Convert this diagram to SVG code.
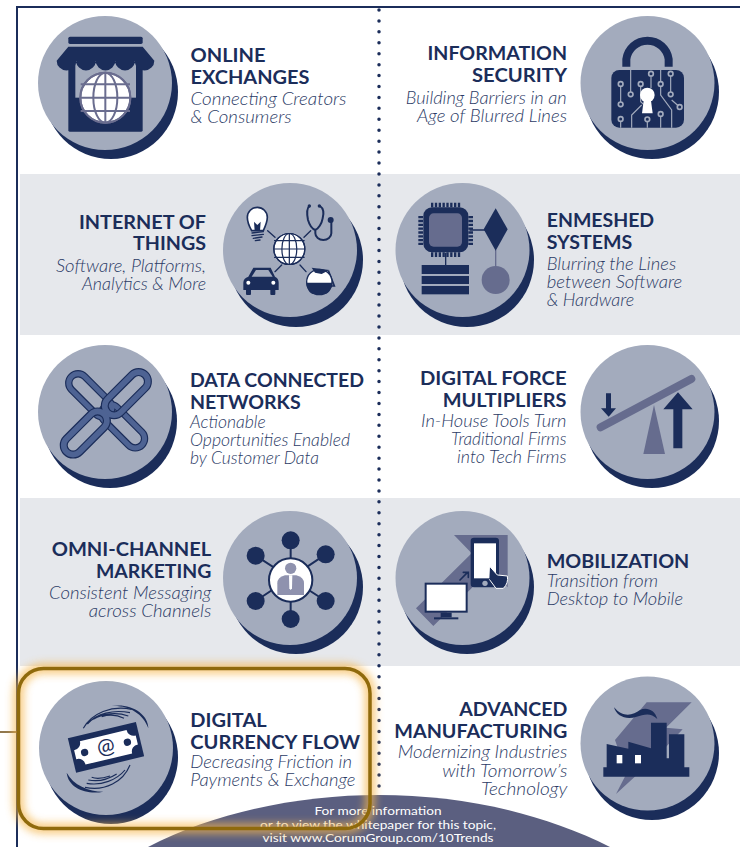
<svg xmlns="http://www.w3.org/2000/svg" xmlns:xlink="http://www.w3.org/1999/xlink" width="740" height="847" viewBox="0 0 740 847">
<style>
.h{font-family:"Lato","Liberation Sans",sans-serif;font-weight:700;font-size:19px;fill:#1B2D5A}
.s{font-family:"Lato","Liberation Sans",sans-serif;font-weight:300;font-style:italic;font-size:17px;fill:#2C3B66}
.f{font-family:"Lato","Liberation Sans",sans-serif;font-weight:400;font-size:12px;fill:#fff}
.l{fill:#A3ABBD}.d{fill:#1B2D5A}.m{fill:#666C8E}.w{fill:#fff}
.band{fill:#E6E8EC}
.tr{fill:none;stroke:#A3ABBD;stroke-width:3.5}
.nd{fill:#1B2D5A;stroke:#A3ABBD;stroke-width:5}
.ln{fill:none;stroke:#1B2D5A;stroke-linecap:round}
.swoosh{fill:none;stroke:#1B2D5A;stroke-width:3.5}
</style>
<defs>
<g id="globe"><circle r="75" fill="#fff"/><g fill="none"><circle r="75"/><ellipse rx="36" ry="75"/><path d="M0-75V75M-74-40H74M-75 0H75M-74 40H74"/></g></g>
<rect id="link" x="-80" y="-28" width="160" height="56" rx="28"/>
<filter id="glow" x="-10%" y="-15%" width="120%" height="130%"><feGaussianBlur stdDeviation="4"/></filter>
</defs>
<rect width="740" height="847" fill="#fff"/>
<rect class="band" x="20" y="174" width="720" height="161"/>
<rect class="band" x="20" y="498" width="720" height="168"/>
<path d="M17 847V7H740" fill="none" stroke="#1B2D5A" stroke-width="2"/>
<line x1="379" y1="10" x2="379" y2="800" stroke="#1B2D5A" stroke-width="3.500" stroke-linecap="round" stroke-dasharray="0 10.93"/>

<g id="footer">
<path d="M148 847C215 812 300 795 379 795C460 795 540 812 610 847Z" fill="#5B5F80"/>
<text class="f" x="314.500" y="815" textLength="127" lengthAdjust="spacingAndGlyphs">For more information</text>
<text class="f" x="260" y="828.500" textLength="236" lengthAdjust="spacingAndGlyphs">or to view the whitepaper for this topic,</text>
<text class="f" x="262.500" y="842" textLength="231" lengthAdjust="spacingAndGlyphs">visit www.CorumGroup.com/10Trends</text>
</g>

<g id="online-exchanges">
<circle class="d" cx="111" cy="92" r="67"/><circle class="l" cx="105" cy="83" r="67"/>
<g transform="scale(.33333)">
<rect class="d" x="205" y="110" width="223" height="22" rx="5"/>
<rect class="d" x="205" y="185" width="223" height="210" rx="4"/>
<rect class="l" x="226" y="190" width="182" height="103"/>
<path class="d" d="M205 140H428L463 182A29.300 29.300 0 0 1 404.400 182A29.300 29.300 0 0 1 345.800 182A29.300 29.300 0 0 1 287.200 182A29.300 29.300 0 0 1 228.600 182A29.300 29.300 0 0 1 170 182Z"/>
<use href="#globe" transform="translate(316 293)" stroke="#6A6D8F" stroke-width="6"/>
</g>
<text class="h" x="190.500" y="62" textLength="75" lengthAdjust="spacingAndGlyphs">ONLINE</text>
<text class="h" x="190.500" y="83.500" textLength="119" lengthAdjust="spacingAndGlyphs">EXCHANGES</text>
<text class="s" x="190.500" y="105" textLength="156" lengthAdjust="spacingAndGlyphs">Connecting Creators</text>
<text class="s" x="190.500" y="122.500" textLength="101" lengthAdjust="spacingAndGlyphs">&amp; Consumers</text>
</g>

<g id="information-security">
<circle class="d" cx="652" cy="92" r="67"/><circle class="l" cx="647.500" cy="83" r="67"/>
<g transform="translate(370 0) scale(.33333)">
<path d="M769 200V178A64 64 0 0 1 896 178V200" fill="none" stroke="#1B2D5A" stroke-width="24"/>
<rect class="d" x="724" y="210" width="218" height="173" rx="24"/>
<path class="tr" d="M752 252V313M782 210V283M812 252V305L828 320M843 221V265M872 252V210M872 252V285L905 330V383M902 221V283M785 383V345L815 315M832 358V383M872 342V383M752 357V383M929 321L905 300"/>
<g class="nd"><circle cx="752" cy="252" r="7"/><circle cx="782" cy="283" r="7"/><circle cx="812" cy="252" r="7"/><circle cx="843" cy="221" r="7"/><circle cx="872" cy="252" r="7"/><circle cx="902" cy="221" r="7"/><circle cx="902" cy="283" r="7"/><circle cx="752" cy="313" r="7"/><circle cx="752" cy="357" r="7"/><circle cx="832" cy="358" r="7"/><circle cx="872" cy="342" r="7"/><circle cx="929" cy="321" r="7"/></g>
<circle class="w" cx="832" cy="285" r="22"/><path class="w" d="M822 295H842L848 340H816Z"/>
</g>
<text class="h" x="427.500" y="60" textLength="139.500" lengthAdjust="spacingAndGlyphs">INFORMATION</text>
<text class="h" x="472" y="82.300" textLength="95" lengthAdjust="spacingAndGlyphs">SECURITY</text>
<text class="s" x="405.700" y="104" textLength="161" lengthAdjust="spacingAndGlyphs">Building Barriers in an</text>
<text class="s" x="417" y="122" textLength="150" lengthAdjust="spacingAndGlyphs">Age of Blurred Lines</text>
</g>

<g id="internet-of-things">
<circle class="d" cx="296" cy="260" r="67"/><circle class="l" cx="290" cy="250" r="67"/>
<g transform="scale(.33333)">
<path d="M803 692L825 712M912 712L932 692M845 795L825 815M900 795L918 815" class="ln" stroke-width="4"/>
<use href="#globe" transform="translate(868 747) scale(.62)" stroke="#1B2D5A" stroke-width="6"/>
<path d="M755 692C745 675 742 665 742 652A30 30 0 0 1 802 652C802 665 798 675 790 692Z" fill="#fff" stroke="#1B2D5A" stroke-width="5"/>
<path d="M764 692L762 665L772 675L782 665L780 692" fill="#1B2D5A"/>
<path d="M756 699L790 695M756 707L790 703M760 715L786 711M766 722L780 720" class="ln" stroke-width="4"/>
<path d="M928 618C920 625 920 640 924 660C930 680 940 688 946 690C955 686 965 672 968 655C972 640 970 625 960 618M946 690V700A24 20 0 0 0 994 700V662" class="ln" stroke-width="6"/>
<circle class="d" cx="928" cy="618" r="5"/><circle class="d" cx="958" cy="618" r="5"/><circle class="d" cx="992" cy="660" r="9"/>
<path class="d" d="M745 830L760 803H812L825 830Q836 835 836 848V870H730V848Q730 835 745 830Z"/>
<path class="l" d="M755 830L768 810H805L818 830Z"/>
<circle class="w" cx="745" cy="848" r="6"/><circle class="w" cx="820" cy="848" r="6"/>
<rect class="d" x="738" y="866" width="15" height="19" rx="3"/><rect class="d" x="811" y="866" width="15" height="19" rx="3"/>
<path d="M985 812L1003 858H988" fill="none" stroke="#1B2D5A" stroke-width="5"/>
<circle cx="958" cy="846" r="38" fill="#fff" stroke="#1B2D5A" stroke-width="4"/>
<path class="d" d="M919 848H997C997 865 985 882 975 882H940C930 882 919 865 919 848Z"/>
<path class="d" d="M935 803L988 810L965 822L945 818Z"/>
</g>
<text class="h" x="79" y="228.500" textLength="127" lengthAdjust="spacingAndGlyphs">INTERNET OF</text>
<text class="h" x="133" y="250" textLength="73" lengthAdjust="spacingAndGlyphs">THINGS</text>
<text class="s" x="56" y="272" textLength="150" lengthAdjust="spacingAndGlyphs">Software, Platforms,</text>
<text class="s" x="82" y="290" textLength="124" lengthAdjust="spacingAndGlyphs">Analytics &amp; More</text>
</g>

<g id="enmeshed-systems">
<circle class="d" cx="467" cy="260" r="67"/><circle class="l" cx="462.500" cy="250" r="67"/>
<g transform="translate(370 0) scale(.33333)">
<path d="M183 615H272M183 764H272M152 648V735M302 648V735" fill="none" stroke="#1B2D5A" stroke-width="14" stroke-dasharray="7 4.500"/>
<path d="M227 760V795" class="ln" stroke-width="4"/><path d="M300 690H345" class="ln" stroke-width="4"/>
<path d="M377 750V800" fill="none" stroke="#666C8E" stroke-width="4"/>
<rect class="d" x="160" y="622" width="135" height="135" rx="26"/>
<rect class="m" x="177" y="640" width="99" height="100" rx="14"/>
<path class="d" d="M377 625L413 688L377 752L341 688Z"/>
<circle class="m" cx="377" cy="840" r="42"/>
<rect class="d" x="155" y="795" width="142" height="27"/><rect class="d" x="155" y="828" width="142" height="24"/><rect class="d" x="155" y="858" width="142" height="25"/>
</g>
<text class="h" x="546.700" y="227" textLength="107.500" lengthAdjust="spacingAndGlyphs">ENMESHED</text>
<text class="h" x="546.700" y="249" textLength="85.500" lengthAdjust="spacingAndGlyphs">SYSTEMS</text>
<text class="s" x="546.700" y="269.500" textLength="129.500" lengthAdjust="spacingAndGlyphs">Blurring the Lines</text>
<text class="s" x="546.700" y="288" textLength="135.500" lengthAdjust="spacingAndGlyphs">between Software</text>
<text class="s" x="546.700" y="306" textLength="87.500" lengthAdjust="spacingAndGlyphs">&amp; Hardware</text>
</g>

<g id="data-connected-networks">
<circle class="d" cx="110" cy="421" r="67"/><circle class="l" cx="105" cy="412" r="67"/>
<g transform="translate(0 340) scale(.33333)">
<g fill="none" stroke="#1B2D5A" stroke-width="22"><use href="#link" transform="translate(271 166) rotate(45)"/><use href="#link" transform="translate(369 259) rotate(45)"/></g>
<g fill="none" stroke="#4E6393" stroke-width="15"><use href="#link" transform="translate(271 166) rotate(45)"/><use href="#link" transform="translate(369 259) rotate(45)"/></g>
<g fill="none" stroke="#1B2D5A" stroke-width="24"><use href="#link" transform="translate(379 161) rotate(-45)"/><use href="#link" transform="translate(256 279) rotate(-45)"/></g>
<g fill="none" stroke="#4E6393" stroke-width="17"><use href="#link" transform="translate(379 161) rotate(-45)"/><use href="#link" transform="translate(256 279) rotate(-45)"/></g>
</g>
<text class="h" x="190" y="387" textLength="174" lengthAdjust="spacingAndGlyphs">DATA CONNECTED</text>
<text class="h" x="190" y="409" textLength="110.700" lengthAdjust="spacingAndGlyphs">NETWORKS</text>
<text class="s" x="190" y="427.700" textLength="75.700" lengthAdjust="spacingAndGlyphs">Actionable</text>
<text class="s" x="190" y="445.700" textLength="160" lengthAdjust="spacingAndGlyphs">Opportunities Enabled</text>
<text class="s" x="190" y="464" textLength="129" lengthAdjust="spacingAndGlyphs">by Customer Data</text>
</g>

<g id="digital-force-multipliers">
<circle class="d" cx="652" cy="421" r="67"/><circle class="l" cx="647.500" cy="412" r="67"/>
<g transform="translate(370 340) scale(.33333)">
<path class="m" d="M852 195L885 342H820Z"/>
<path d="M692 262L964 117" fill="none" stroke="#666C8E" stroke-width="24" stroke-linecap="round"/>
<path class="d" d="M708 160H723V205H738L716 230L693 205H708Z"/>
<path class="d" d="M924 157L968 208H937V325H910V208H880Z"/>
</g>
<text class="h" x="420" y="385" textLength="146.500" lengthAdjust="spacingAndGlyphs">DIGITAL FORCE</text>
<text class="h" x="442.700" y="406.700" textLength="123.800" lengthAdjust="spacingAndGlyphs">MULTIPLIERS</text>
<text class="s" x="421" y="426.700" textLength="145.500" lengthAdjust="spacingAndGlyphs">In-House Tools Turn</text>
<text class="s" x="451" y="445" textLength="115.500" lengthAdjust="spacingAndGlyphs">Traditional Firms</text>
<text class="s" x="457" y="463" textLength="109.500" lengthAdjust="spacingAndGlyphs">into Tech Firms</text>
</g>

<g id="omni-channel-marketing">
<circle class="d" cx="296" cy="587" r="67"/><circle class="l" cx="290" cy="578" r="67"/>
<g transform="translate(0 340) scale(.33333)">
<path d="M872 601V837M767 647L977 783M977 643L767 783" class="ln" stroke-width="6"/>
<g class="d"><circle cx="872" cy="601" r="27"/><circle cx="767" cy="647" r="27"/><circle cx="977" cy="643" r="27"/><circle cx="767" cy="783" r="27"/><circle cx="977" cy="783" r="27"/><circle cx="872" cy="837" r="27"/></g>
<circle cx="872" cy="720" r="65" fill="#fff" stroke="#1B2D5A" stroke-width="6"/>
<circle cx="872" cy="685" r="17" fill="#8F92AE"/>
<path d="M832 765V730Q832 712 855 706H889Q912 712 912 730V765Z" fill="#8F92AE"/>
<path class="w" d="M867 706H877L876 745L872 750L868 745Z"/>
</g>
<text class="h" x="51.700" y="556" textLength="159.600" lengthAdjust="spacingAndGlyphs">OMNI-CHANNEL</text>
<text class="h" x="96" y="578" textLength="115.300" lengthAdjust="spacingAndGlyphs">MARKETING</text>
<text class="s" x="49" y="599" textLength="162.300" lengthAdjust="spacingAndGlyphs">Consistent Messaging</text>
<text class="s" x="88.700" y="617" textLength="122.600" lengthAdjust="spacingAndGlyphs">across Channels</text>
</g>

<g id="mobilization">
<circle class="d" cx="467" cy="587" r="67"/><circle class="l" cx="462.500" cy="578" r="67"/>
<g transform="translate(370 340) scale(.33333)">
<path class="m" d="M252 585H413V742L360 690L190 858L138 805L305 640Z"/>
<rect class="d" x="302" y="593" width="85" height="149" rx="10"/>
<rect class="w" x="312" y="610" width="66" height="105"/>
<circle class="l" cx="345" cy="730" r="8"/>
<path d="M360 680L382 705L412 708Q416 730 400 745H378L358 718" class="d" stroke="#fff" stroke-width="3"/>
<path d="M270 720L292 698M280 697H295V712" class="ln" stroke-width="5"/>
<rect x="167" y="731" width="123" height="84" fill="#fff" stroke="#1B2D5A" stroke-width="6"/>
<rect class="d" x="212" y="818" width="33" height="14"/><rect class="d" x="192" y="832" width="73" height="6"/>
</g>
<text class="h" x="546.700" y="567.700" textLength="142.600" lengthAdjust="spacingAndGlyphs">MOBILIZATION</text>
<text class="s" x="546.700" y="586.700" textLength="111.300" lengthAdjust="spacingAndGlyphs">Transition from</text>
<text class="s" x="546.700" y="605" textLength="136.300" lengthAdjust="spacingAndGlyphs">Desktop to Mobile</text>
</g>

<g id="digital-currency-flow">
<circle class="d" cx="111" cy="757" r="67"/><circle class="l" cx="106" cy="748" r="67"/>
<g transform="translate(0 650) scale(.33333)">
<g transform="translate(318 292) rotate(-13.500)">
<rect class="d" x="-105" y="-53" width="210" height="106"/>
<path class="w" d="M-72 -36H72A21 21 0 0 0 95 -14V14A21 21 0 0 0 72 36H-72A21 21 0 0 0 -95 14V-14A21 21 0 0 0 -72 -36Z"/>
<circle class="d" cx="-66" cy="0" r="11"/><circle class="d" cx="66" cy="0" r="11"/>
</g>
<text x="318" y="311" text-anchor="middle" transform="rotate(-13.500 318 292)" style="font-family:'Lato','Liberation Sans',sans-serif;font-weight:400;font-size:64px;fill:#1B2D5A">@</text>
<path class="d" d="M445 235C445 190 390 158 335 168C385 165 430 190 445 235Z"/>
<path class="swoosh" d="M250 235C275 190 335 165 395 178M262 222C290 190 340 178 390 188M280 208C310 190 350 186 385 198M305 200C330 192 350 194 372 205"/>
<path class="d" d="M200 368C205 415 260 435 310 425C265 425 220 405 200 368Z"/>
<path class="swoosh" d="M390 345C370 395 315 425 255 412M375 360C350 390 305 408 260 400M350 372C325 388 295 396 265 390M330 378C310 385 290 388 275 382"/>
</g>
<text class="h" x="190.300" y="727" textLength="76.400" lengthAdjust="spacingAndGlyphs">DIGITAL</text>
<text class="h" x="190.300" y="748.700" textLength="169.700" lengthAdjust="spacingAndGlyphs">CURRENCY FLOW</text>
<text class="s" x="190.300" y="767.700" textLength="161.700" lengthAdjust="spacingAndGlyphs">Decreasing Friction in</text>
<text class="s" x="190.300" y="786" textLength="165" lengthAdjust="spacingAndGlyphs">Payments &amp; Exchange</text>
</g>

<g id="advanced-manufacturing">
<circle class="d" cx="652" cy="753" r="67"/><circle class="l" cx="647.500" cy="743.500" r="67"/>
<g transform="translate(370 660) scale(.33333)">
<path class="m" d="M830 127H965L888 203L938 208L860 290L738 402L770 340L735 240Z"/>
<path class="d" d="M732 142C760 175 790 165 810 150C830 140 855 150 862 177C840 155 820 165 800 170C770 180 740 170 732 142Z"/>
<path class="d" d="M710 252L775 266V245L843 265V188H890V295H897V223H943V322H958V350H700V322H710Z"/>
<rect class="w" x="740" y="285" width="17" height="25"/><rect class="w" x="795" y="285" width="18" height="25"/>
</g>
<text class="h" x="459.300" y="715.700" textLength="108" lengthAdjust="spacingAndGlyphs">ADVANCED</text>
<text class="h" x="394.300" y="737.700" textLength="173" lengthAdjust="spacingAndGlyphs">MANUFACTURING</text>
<text class="s" x="397.700" y="758" textLength="169.600" lengthAdjust="spacingAndGlyphs">Modernizing Industries</text>
<text class="s" x="442.300" y="776.700" textLength="125" lengthAdjust="spacingAndGlyphs">with Tomorrow’s</text>
<text class="s" x="481" y="795" textLength="86.300" lengthAdjust="spacingAndGlyphs">Technology</text>
</g>

<g id="connectors">
<line x1="0" y1="732" x2="17" y2="732" stroke="#6B4A10" stroke-width="1.500"/>
</g>
<g id="highlight">
<rect x="18.500" y="668.500" width="351.500" height="160" rx="25" fill="none" stroke="#F5B64C" stroke-width="10" opacity=".75" filter="url(#glow)"/>
<rect x="18.500" y="668.500" width="351.500" height="160" rx="25" fill="none" stroke="#8F6A0C" stroke-width="3.500"/>
</g>
</svg>
